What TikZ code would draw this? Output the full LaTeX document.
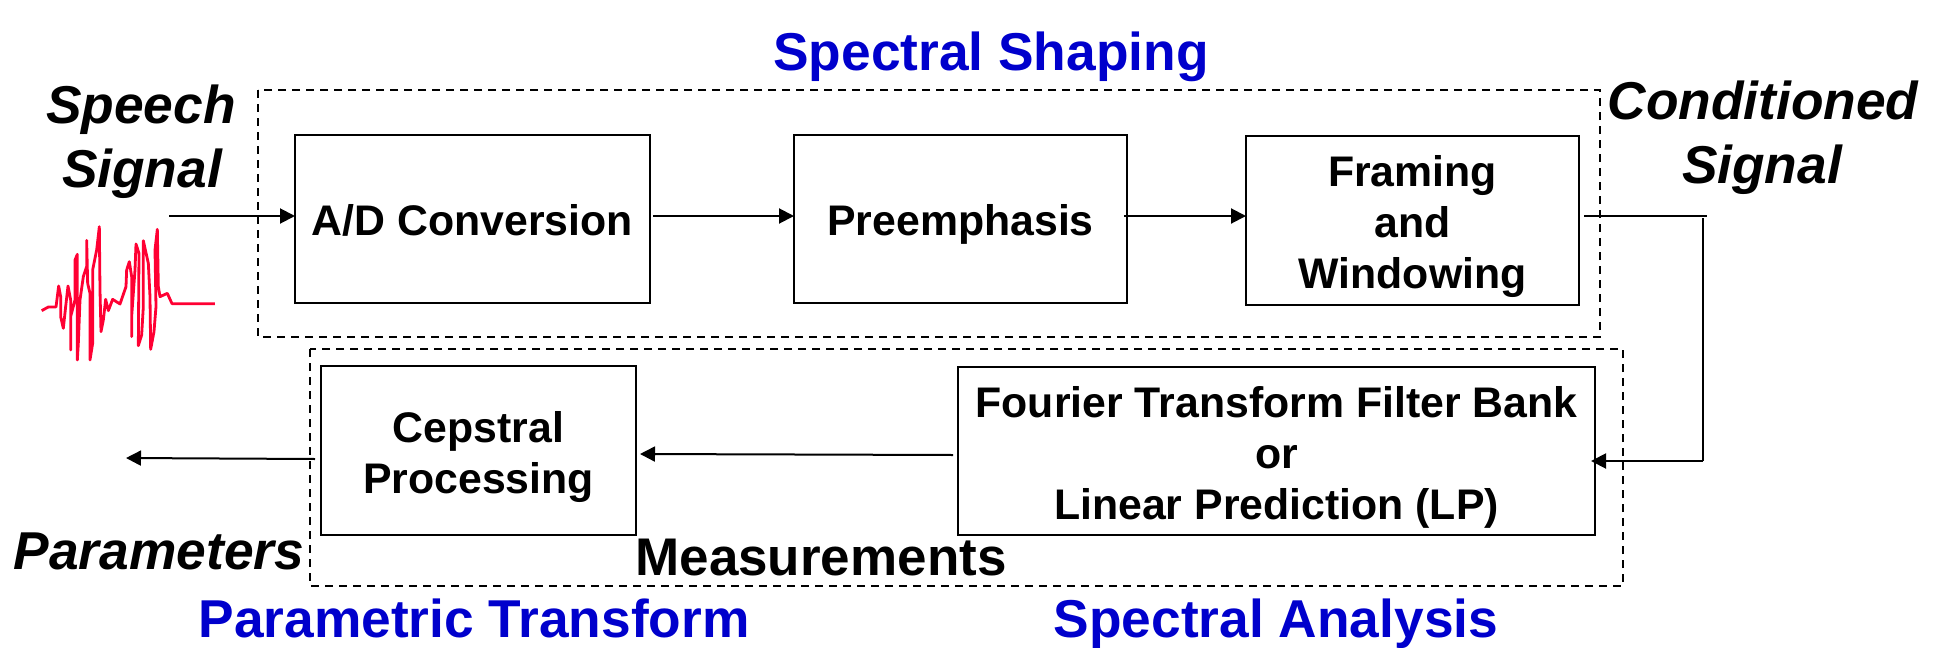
\documentclass[tikz,border=0pt]{standalone}
\usepackage{fontspec}
\setmainfont{Liberation Sans}
\usetikzlibrary{arrows.meta}
\definecolor{headblue}{RGB}{0,0,204}
\definecolor{wavered}{RGB}{255,0,51}
\tikzset{
  procbox/.style={draw=black,line width=2pt,outer sep=0pt,inner sep=0pt,align=center,text depth=0pt,
    font=\fontsize{42.8}{51}\selectfont\bfseries},
  groupbox/.style={draw=black,line width=1.6pt,dash pattern=on 8pt off 6pt},
  arr/.style={line width=2pt,-{Triangle[length=15pt,width=15pt]}},
  plain/.style={line width=2pt},
  heading/.style={anchor=base,text=headblue,inner sep=0pt,font=\fontsize{53.3}{60}\selectfont\bfseries},
  sigtext/.style={anchor=base,inner sep=0pt,font=\fontsize{53.3}{60}\selectfont\bfseries\itshape},
}
\begin{document}
\begin{tikzpicture}[x=1pt,y=-1pt]
\useasboundingbox (0,0) rectangle (1939,648);
% dashed groups
\draw[groupbox] (258,90) rectangle (1600,337);
\draw[groupbox] (310,349) rectangle (1623,586);
% boxes
\node[procbox,minimum width=355pt,minimum height=168pt,text height=33pt] (ad) at (472.5,219) {A/D Conversion};
\node[procbox,minimum width=333pt,minimum height=168pt,text height=33pt] (pre) at (960.5,219) {Preemphasis};
\node[procbox,minimum width=333pt,minimum height=169pt,text height=135pt] (frame) at (1412.5,220.5) {Framing\\and\\Windowing};
\node[procbox,minimum width=637pt,minimum height=168pt,text height=136pt] (four) at (1276.5,451) {Fourier Transform Filter Bank\\or\\Linear Prediction (LP)};
\node[procbox,minimum width=315pt,minimum height=169pt,text height=85pt] (cep) at (478.5,450.5) {Cepstral\\Processing};
% texts
\node[heading] (h1) at (991,70) {Spectral Shaping};
\node[heading] (h2) at (474,637) {Parametric Transform};
\node[heading] (h3) at (1276,637) {Spectral Analysis};
\node[sigtext] (s1) at (141,123) {Speech};
\node[sigtext] (s2) at (142,187) {Signal};
\node[sigtext] (c1) at (1763,119) {Conditioned};
\node[sigtext] (c2) at (1762,183) {Signal};
\node[sigtext] (par) at (159,569) {Parameters};
\node[anchor=base,inner sep=0pt,font=\fontsize{53}{60}\selectfont\bfseries] (meas) at (821,575) {Measurements};
% free ends
\coordinate (in) at (169,216);
\coordinate (outa) at (1707,216);
\coordinate (outb) at (1703,461);
\coordinate (final) at (126,458);
% connectors
\draw[arr] (in) -- (ad.west |- in);
\draw[arr] ([xshift=3pt]ad.east |- in) -- (pre.west |- in);
\draw[arr] ([xshift=-3pt]pre.east |- in) -- (frame.west |- in);
\draw[plain] (frame.east |- in) ++(5,0) -- (outa);
\draw[plain] (outb |- outa) ++(0,2) -- (outb);
\draw[arr] (outb) -- ([xshift=-4pt]four.east |- outb);
\draw[arr] ([xshift=-5pt,yshift=-4pt]four.west) -- ([xshift=4pt,yshift=-3.5pt]cep.east);
\draw[arr] ([xshift=-6pt,yshift=-8.5pt]cep.west) -- (final);
% waveform
\begin{scope}[xshift=20pt,yshift=-60pt,x=0.33333pt,y=-0.33333pt]
\draw[wavered,line width=2.8pt,line join=round] (65,752) -- (85,741) -- (108,741) -- (116,678) -- (122,710) -- (122,770) -- (130,805) -- (137,740) -- (144,678) -- (152,720) -- (152,870) -- (152,770) -- (165,720) -- (165,600) -- (172,583) -- (172,900) -- (175,850) -- (180,720) -- (190,650) -- (200,620) -- (200,541) -- (203,670) -- (210,700) -- (210,900) -- (218,850) -- (218,630) -- (230,570) -- (238,500) -- (240,690) -- (243,815) -- (250,780) -- (257,718) -- (265,752) -- (278,718) -- (300,732) -- (318,680) -- (320,630) -- (328,605) -- (335,650) -- (335,830) -- (335,770) -- (345,630) -- (348,552) -- (357,580) -- (355,857) -- (365,825) -- (370,740) -- (370,542) -- (385,610) -- (390,710) -- (392,868) -- (402,815) -- (408,740) -- (405,570) -- (412,508) -- (415,680) -- (420,710) -- (442,700) -- (456,731) -- (585,731);
\end{scope}
\end{tikzpicture}
\end{document}
